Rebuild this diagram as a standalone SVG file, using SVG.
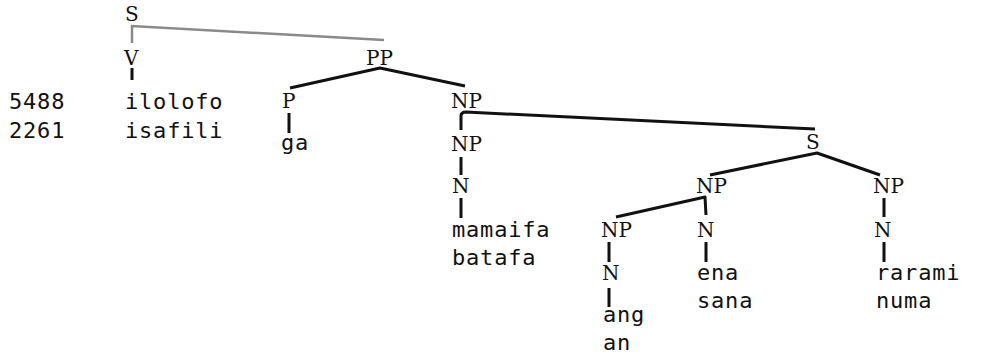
<svg xmlns="http://www.w3.org/2000/svg" width="987" height="355" viewBox="0 0 987 355">
<style>
.lab{font-family:"DejaVu Serif","Liberation Serif",serif;font-size:20px;fill:#111}
.w{font-family:"DejaVu Sans Mono","Liberation Mono",monospace;font-size:22px;letter-spacing:0.8px;fill:#111}
.e{fill:none;stroke:#111;stroke-width:3;stroke-linejoin:round;stroke-linecap:butt}
.g{fill:none;stroke:#8a8a8a;stroke-width:2.5;stroke-linejoin:miter}
</style>
<rect width="987" height="355" fill="#fff"/>
<g id="connectors">
<polyline class="g" points="132,43 132,26 384,40"/>
<line class="e" x1="132" y1="68" x2="132" y2="80" stroke-width="2"/>
<polyline class="e" points="290,88 380,68 465,86"/>
<line class="e" x1="289" y1="113" x2="289" y2="133"/>
<path class="e" d="M461,130 L461,116 Q461,112 466,112 L815,129"/>
<line class="e" x1="461" y1="157" x2="461" y2="175"/>
<line class="e" x1="461" y1="198" x2="461" y2="218"/>
<polyline class="e" points="710,175 817,153 880,175"/>
<polyline class="e" points="616,217 705,197 706,215"/>
<line class="e" x1="609" y1="242" x2="609" y2="262"/>
<line class="e" x1="609" y1="288" x2="609" y2="307"/>
<line class="e" x1="706" y1="242" x2="706" y2="262"/>
<line class="e" x1="884" y1="198" x2="884" y2="217"/>
<line class="e" x1="884" y1="242" x2="884" y2="262"/>
</g>
<g id="n-S-root"><text class="lab" x="125" y="21">S</text></g>
<g id="n-V"><text class="lab" x="124" y="65">V</text></g>
<g id="n-PP"><text class="lab" x="366" y="65">PP</text></g>
<g id="n-numbers"><text class="w" x="9" y="109">5488</text><text class="w" x="9" y="138">2261</text></g>
<g id="n-ilolofo"><text class="w" x="125" y="109">ilolofo</text><text class="w" x="125" y="138">isafili</text></g>
<g id="n-P"><text class="lab" x="282" y="108">P</text></g>
<g id="n-ga"><text class="w" x="281" y="150">ga</text></g>
<g id="n-NP1"><text class="lab" x="451" y="108">NP</text></g>
<g id="n-NP2"><text class="lab" x="451" y="151">NP</text></g>
<g id="n-N1"><text class="lab" x="452" y="193">N</text></g>
<g id="n-mamaifa"><text class="w" x="452" y="237">mamaifa</text><text class="w" x="452" y="265">batafa</text></g>
<g id="n-S2"><text class="lab" x="806" y="149">S</text></g>
<g id="n-NP3"><text class="lab" x="696" y="193">NP</text></g>
<g id="n-NP4"><text class="lab" x="873" y="193">NP</text></g>
<g id="n-NP5"><text class="lab" x="601" y="237">NP</text></g>
<g id="n-N2"><text class="lab" x="697" y="237">N</text></g>
<g id="n-N3"><text class="lab" x="874" y="237">N</text></g>
<g id="n-N4"><text class="lab" x="602" y="280">N</text></g>
<g id="n-ena"><text class="w" x="697" y="280">ena</text><text class="w" x="697" y="308">sana</text></g>
<g id="n-rarami"><text class="w" x="876" y="280">rarami</text><text class="w" x="876" y="308">numa</text></g>
<g id="n-ang"><text class="w" x="603" y="322">ang</text><text class="w" x="603" y="350">an</text></g>
</svg>
